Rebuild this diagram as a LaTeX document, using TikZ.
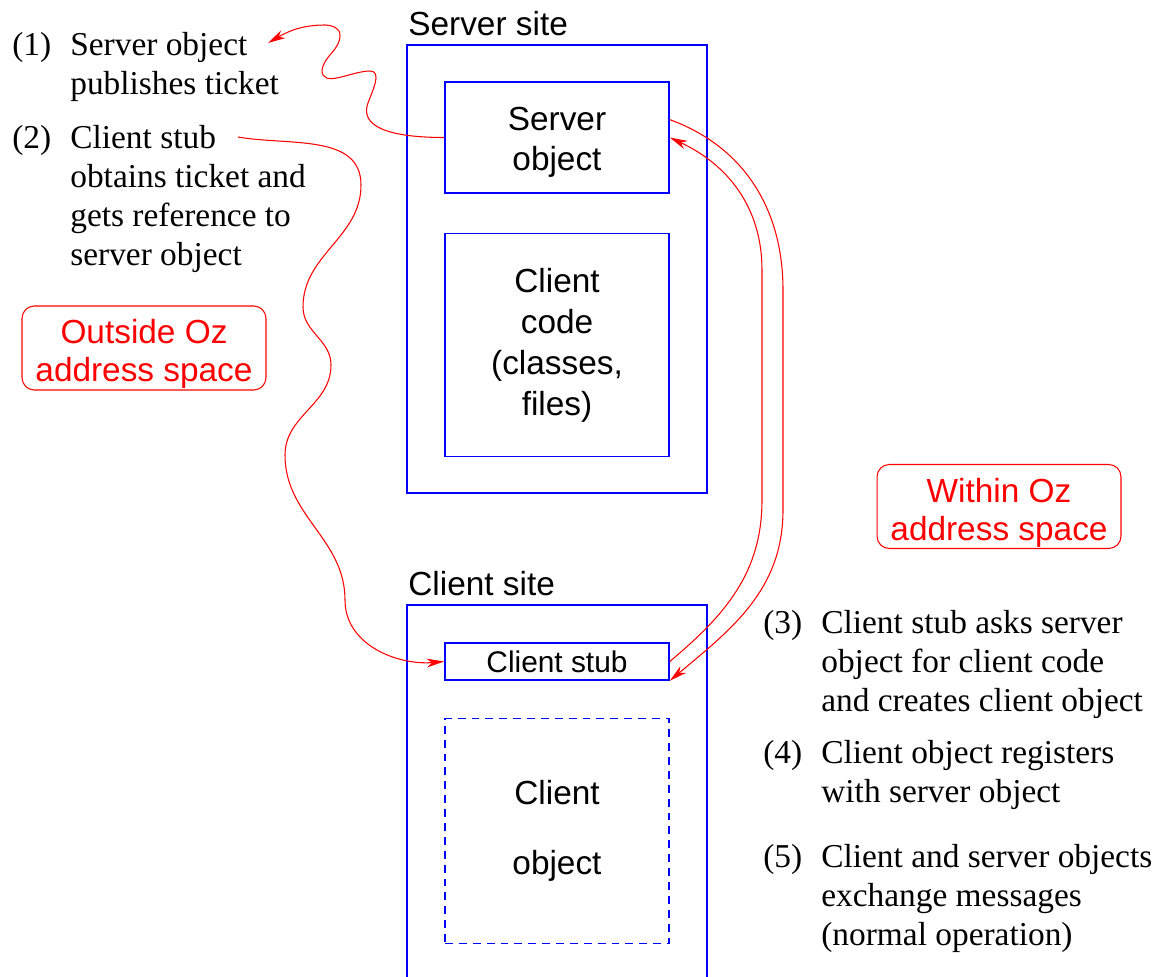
\documentclass[tikz,border=0pt]{standalone}
\usepackage{fontspec}
\setmainfont{Liberation Serif}
\setsansfont{Liberation Sans}
\usetikzlibrary{positioning,arrows.meta}
\newcommand{\stepitem}[2]{\begin{tabular}[t]{@{}p{1.16cm}@{}l@{}}#1&#2\end{tabular}}
\newcommand{\down}[1]{\rule{0pt}{#1}}

\begin{document}
\begin{tikzpicture}[x=0.02cm, y=-0.02cm,
  box/.style={draw=blue, line width=0.9pt, minimum width=4.48cm, align=center, inner sep=0pt, font=\sffamily\fontsize{19}{22.8}\selectfont},
  site/.style={draw=blue, line width=0.7pt, minimum width=6cm},
  sitelabel/.style={anchor=base west, inner sep=0pt, font=\sffamily\fontsize{19}{22.5}\selectfont},
  zone/.style={draw=red, text=red, line width=0.6pt, rounded corners=7pt, minimum width=4.88cm, minimum height=1.68cm, align=center, inner sep=0pt, font=\sffamily\fontsize{19}{21.6}\selectfont},
  note/.style={anchor=base west, inner sep=0pt, font=\fontsize{19}{22.2}\selectfont},
  arr/.style={red, line width=0.6pt, -{Stealth[length=10pt, width=5pt, inset=3pt]}}]
\useasboundingbox (0,0) rectangle (1160,977);
% server site
\node[site, minimum height=8.96cm] (srvsite) at (557,269) {};
\node[sitelabel] (srvlabel) at (408,35) {Server site};
\node[box, minimum height=2.22cm] (srvobj) at (557,137.5) {\down{18.3pt}Server\\object};
\node[box, minimum height=4.46cm, below=0.78cm of srvobj, font=\sffamily\fontsize{19}{23.4}\selectfont] (code) {Client\\code\\(classes,\\files)};
% client site
\node[site, minimum height=8cm] (clisite) at (557,805) {};
\node[sitelabel] (clilabel) at (408,595) {Client site};
\node[box, minimum height=0.74cm, font=\sffamily\fontsize{17}{20}\selectfont] (stub) at (557,661.5) {Client stub};
\node[box, dashed, dash pattern=on 4.5pt off 3.4pt, minimum height=4.5cm, below=0.74cm of stub] (cliobj) {Client\\[17pt]object};
% the two zones
\node[zone] (outside) at (144,348) {\down{20.5pt}Outside Oz\\address space};
\node[zone] (within) at (999,506.5) {\down{20.5pt}Within Oz\\address space};
% steps
\node[note] (step1) at (12,55) {\stepitem{(1)}{Server object\\&publishes ticket}};
\node[note] (step2) at (12,148) {\stepitem{(2)}{Client stub\\&obtains ticket and\\&gets reference to\\&server object}};
\node[note] (step3) at (763,633) {\stepitem{(3)}{Client stub asks server\\&object for client code\\&and creates client object}};
\node[note] (step4) at (763,763) {\stepitem{(4)}{Client object registers\\&with server object}};
\node[note] (step5) at (763,867) {\stepitem{(5)}{Client and server objects\\&exchange messages\\&(normal operation)}};
\coordinate (tkt) at (268,43);
\coordinate (ask) at (238,137);
% outside Oz: ticket out and in
\draw[arr] (srvobj.west) to[out=180,in=250] (368,103) to[out=70,in=0] (370,71) to[out=180,in=-90] (322,70)
  to[out=80,in=-90] (340,35) to[out=90,in=0] (325,25) to[out=180,in=30] (tkt);
\draw[arr] (ask) to[out=-10,in=90] (361,185) to[out=-90,in=90] (303,307) to[out=-90,in=90] (331,365)
  to[out=-90,in=90] (285,455) to[out=-90,in=90] (345,600) to[out=-90,in=185] (stub.west);
% within Oz
\draw[arr] (srvobj.9) to[out=-20,in=90] (783,290) -- (783,510) to[out=-90,in=40] (stub.south east);
\draw[arr] (stub.east) to[out=40,in=-90] (762,500) -- (762,270) to[out=90,in=-25] (srvobj.east);
\end{tikzpicture}
\end{document}
